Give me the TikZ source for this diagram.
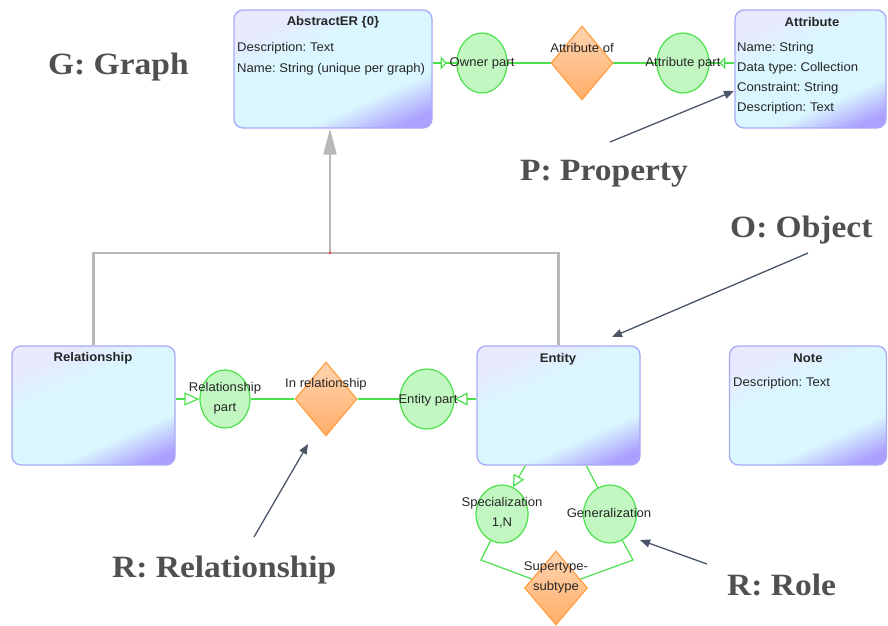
\documentclass[tikz,border=0pt]{standalone}
\usepackage{fontspec}
\setmainfont{Liberation Serif}
\newfontfamily\boxfont[FakeStretch=1.04]{Liberation Sans}
\newfontfamily\tagfont[FakeStretch=1.08]{Liberation Serif}
\usetikzlibrary{shapes.geometric,arrows.meta,calc}
\frenchspacing

\definecolor{boxedge}{HTML}{A9A9F5}
\definecolor{boxA}{HTML}{E8E8FF}
\definecolor{boxB}{HTML}{DAF7FF}
\definecolor{boxC}{HTML}{ABA0FF}
\definecolor{relgreen}{HTML}{4CE04C}
\definecolor{relfill}{HTML}{C2F7C2}
\definecolor{dmedge}{HTML}{FFA045}
\definecolor{dmtop}{HTML}{FFD4B0}
\definecolor{dmbot}{HTML}{FFAE68}
\definecolor{inhgray}{HTML}{B8B8B8}
\definecolor{pointer}{HTML}{4B5568}
\definecolor{tagtext}{HTML}{505050}
\definecolor{bodytext}{HTML}{262626}

\pgfdeclareverticalshading{erfill}{100bp}{color(0bp)=(boxC); color(22bp)=(boxC); color(35bp)=(boxB); color(60bp)=(boxB); color(74bp)=(boxA); color(100bp)=(boxA)}

\pgfdeclarelayer{back}
\pgfsetlayers{back,main}

\begin{document}
\begin{tikzpicture}[x=1pt,y=-1pt,
  ebox/.style={draw=boxedge, line width=1.3pt, rounded corners=9pt,
    shading=erfill, shading angle=24, inner sep=0pt},
  part/.style={ellipse, draw=relgreen, line width=1.2pt, fill=relfill, inner sep=0pt},
  assoc/.style={diamond, draw=dmedge, line width=1.2pt, top color=dmtop, bottom color=dmbot, inner sep=0pt},
  bodytxt/.style={font=\boxfont\fontsize{12.6}{20}\selectfont, text=bodytext, inner sep=0pt},
  titletxt/.style={bodytxt, font=\boxfont\bfseries\fontsize{12.6}{20}\selectfont},
  attrtxt/.style={bodytxt, anchor=west},
  midtxt/.style={bodytxt, align=center},
  tag/.style={font=\tagfont\bfseries\fontsize{31}{36}\selectfont, text=tagtext, inner sep=0pt, anchor=base west},
  relline/.style={draw=relgreen, line width=1.2pt},
  inh/.style={draw=inhgray, line width=2.2pt},
  pointer/.style={draw=pointer, line width=1.3pt, -{Triangle[length=10pt,width=8pt]}}
]
\useasboundingbox (0,0) rectangle (888,625);

% ---- classes ----
\node[ebox, minimum width=198pt, minimum height=118pt] (abs) at (333,69) {};
\node[titletxt] (absT) at (333,22) {AbstractER \{0\}};
\node[attrtxt] (absA1) at (237,48) {Description: Text};
\node[attrtxt] (absA2) at (237,69) {Name: String (unique per graph)};

\node[ebox, minimum width=151pt, minimum height=118pt] (attr) at (810.5,69) {};
\node[titletxt] (attrT) at (812,22) {Attribute};
\node[attrtxt] (attrA1) at (737,48) {Name: String};
\node[attrtxt] (attrA2) at (737,68) {Data type: Collection};
\node[attrtxt] (attrA3) at (737,88) {Constraint: String};
\node[attrtxt] (attrA4) at (737,108) {Description: Text};

\node[ebox, minimum width=163pt, minimum height=119pt] (rel) at (93.5,405.5) {};
\node[titletxt] (relT) at (93,358) {Relationship};

\node[ebox, minimum width=163pt, minimum height=119pt] (ent) at (558.5,405.5) {};
\node[titletxt] (entT) at (558,359) {Entity};

\node[ebox, minimum width=157pt, minimum height=119pt] (note) at (808,405.5) {};
\node[titletxt] (noteT) at (808,358) {Note};
\node[attrtxt] (noteA1) at (733,383) {Description: Text};

% ---- roles and associations ----
\node[part, minimum width=50pt, minimum height=60pt] (own) at (482,63) {};
\node[assoc, minimum width=62pt, minimum height=74pt] (attof) at (582,63) {};
\node[part, minimum width=52pt, minimum height=60pt] (attp) at (683,63) {};

\node[part, minimum width=50pt, minimum height=58pt] (rp) at (225,399) {};
\node[assoc, minimum width=62pt, minimum height=74pt] (inrel) at (326,399) {};
\node[part, minimum width=54pt, minimum height=60pt] (ep) at (427,399) {};

\node[part, minimum width=52pt, minimum height=58pt] (spec) at (502,514) {};
\node[part, minimum width=53pt, minimum height=58pt] (gen) at (610,514) {};
\node[assoc, minimum width=63pt, minimum height=74pt] (sup) at (556,588) {};

\node[bodytxt] (ownL) at (own) {Owner part};
\node[bodytxt] (attofL) at (582,48) {Attribute of};
\node[bodytxt] (attpL) at (683,63) {Attribute part};
\node[midtxt] (rpL) at (225,398) {Relationship\\part};
\node[bodytxt] (inrelL) at (326,384) {In relationship};
\node[bodytxt] (epL) at (428,400) {Entity part};
\node[midtxt] (specL) at (502,513) {Specialization\\1,N};
\node[bodytxt] (genL) at (609,513) {Generalization};
\node[midtxt] (supL) at (556,577) {Supertype-\\subtype};

% ---- connectors ----
\coordinate (jn) at (330,253);
\coordinate (sb) at (481,560);
\coordinate (gb) at (633,560);
\begin{pgfonlayer}{back}
  % generalisation tree
  \draw[inh] (rel.north) |- (jn) -| (ent.north);
  \draw[inh, -{Triangle[length=26pt,width=13pt]}] (jn) -- (jn |- abs.south);
  % attribute association
  \draw[relline] (abs.east |- own) -- (attr.west |- attp);
  \draw[relline, -{Triangle[open,fill=white,length=6pt,width=13pt]}] (abs.east |- own) -- ++(14,0);
  \draw[relline, -{Triangle[open,fill=white,length=6pt,width=12pt]}] (attr.west |- attp) -- ++(-15,0);
  % relationship association
  \draw[relline, -{Triangle[open,fill=white,length=15pt,width=13pt]}] (rel.east |- rp) -- (rp.west);
  \draw[relline] (rp) -- (inrel) -- (ep);
  \draw[relline, -{Triangle[open,fill=white,length=13pt,width=13pt]}] (ent.west |- ep) -- (ep.east);
  % supertype / subtype
  \draw[relline, -{Triangle[open,fill=white,length=12pt,width=12pt]}] ($(ent.south west)+(49,0)$) -- (spec.68);
  \draw[relline] ($(ent.south west)+(110,0)$) -- (gen.115);
  \draw[relline] (spec.-113) -- (sb) -- (sup.center);
  \draw[relline] (gen.-65) -- (gb) -- (sup.center);
\end{pgfonlayer}
\fill[red!75] (jn) circle (1.3pt);

% ---- annotations ----
\node[tag] (tG) at (48,74) {G: Graph};
\node[tag] (tP) at (520,180) {P: Property};
\node[tag] (tO) at (730,237) {O: Object};
\node[tag] (tR) at (112,577) {R: Relationship};
\node[tag] (tRole) at (727,595) {R: Role};

\coordinate (pTail) at (610,142);   \coordinate (pTip) at (734,91);
\coordinate (oTail) at (808,253);   \coordinate (oTip) at (612,337);
\coordinate (rTail) at (254,537);   \coordinate (rTip) at (308,444);
\coordinate (roleTail) at (707,564); \coordinate (roleTip) at (640,540);
\draw[pointer] (pTail) -- (pTip);
\draw[pointer] (oTail) -- (oTip);
\draw[pointer] (rTail) -- (rTip);
\draw[pointer] (roleTail) -- (roleTip);
\end{tikzpicture}
\end{document}
